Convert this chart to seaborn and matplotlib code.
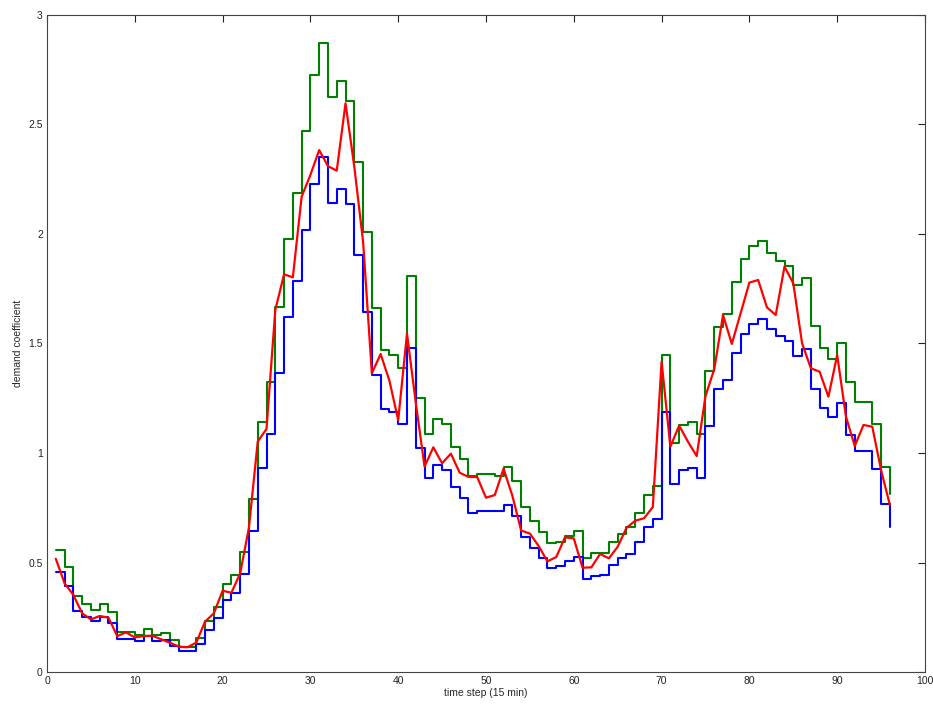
import numpy as np
import pandas as pd
import seaborn as sns
import matplotlib
matplotlib.use("Agg")
import matplotlib.pyplot as plt

# time steps 1..96 (15 min each)
steps = list(range(1, 97))

# upper demand curve (green stairs)
green = [0.556, 0.480, 0.347, 0.310, 0.285, 0.310, 0.275, 0.181, 0.181, 0.170,
         0.196, 0.170, 0.180, 0.145, 0.116, 0.116, 0.154, 0.234, 0.296, 0.402,
         0.443, 0.546, 0.790, 1.142, 1.326, 1.668, 1.977, 2.189, 2.472, 2.726,
         2.874, 2.624, 2.699, 2.609, 2.330, 2.008, 1.662, 1.470, 1.449, 1.389,
         1.810, 1.252, 1.087, 1.157, 1.131, 1.029, 0.974, 0.895, 0.902, 0.902,
         0.895, 0.934, 0.872, 0.755, 0.691, 0.641, 0.588, 0.595, 0.621, 0.644,
         0.519, 0.542, 0.542, 0.595, 0.630, 0.664, 0.728, 0.808, 0.849, 1.447,
         1.047, 1.128, 1.143, 1.086, 1.376, 1.577, 1.635, 1.782, 1.884, 1.947,
         1.970, 1.915, 1.877, 1.854, 1.767, 1.800, 1.581, 1.478, 1.428, 1.501,
         1.323, 1.234, 1.231, 1.131, 0.937, 0.815]

# lower demand curve (blue stairs)
blue = [0.455, 0.393, 0.280, 0.253, 0.234, 0.253, 0.222, 0.150, 0.152, 0.143,
        0.166, 0.143, 0.145, 0.118, 0.095, 0.095, 0.128, 0.192, 0.246, 0.329,
        0.362, 0.447, 0.645, 0.932, 1.086, 1.367, 1.619, 1.787, 2.018, 2.228,
        2.350, 2.143, 2.204, 2.137, 1.904, 1.643, 1.356, 1.199, 1.186, 1.134,
        1.481, 1.024, 0.886, 0.947, 0.924, 0.843, 0.796, 0.725, 0.733, 0.737,
        0.734, 0.763, 0.714, 0.618, 0.565, 0.522, 0.476, 0.484, 0.507, 0.527,
        0.423, 0.438, 0.443, 0.489, 0.519, 0.539, 0.595, 0.664, 0.697, 1.189,
        0.858, 0.922, 0.933, 0.888, 1.125, 1.291, 1.333, 1.455, 1.542, 1.589,
        1.610, 1.566, 1.534, 1.513, 1.444, 1.473, 1.291, 1.204, 1.166, 1.227,
        1.082, 1.009, 1.009, 0.925, 0.767, 0.664]

# measured demand (red line)
red = [0.517, 0.405, 0.352, 0.268, 0.240, 0.256, 0.248, 0.164, 0.181, 0.158,
       0.164, 0.166, 0.149, 0.134, 0.116, 0.113, 0.134, 0.230, 0.268, 0.371,
       0.362, 0.450, 0.660, 1.052, 1.110, 1.653, 1.816, 1.802, 2.170, 2.270,
       2.383, 2.310, 2.289, 2.597, 2.307, 1.965, 1.364, 1.452, 1.330, 1.150,
       1.545, 1.230, 0.938, 1.026, 0.953, 0.997, 0.910, 0.891, 0.890, 0.796,
       0.808, 0.928, 0.805, 0.646, 0.632, 0.575, 0.505, 0.525, 0.615, 0.610,
       0.476, 0.478, 0.539, 0.519, 0.572, 0.658, 0.691, 0.702, 0.753, 1.417,
       1.029, 1.125, 1.052, 0.986, 1.260, 1.383, 1.630, 1.498, 1.638, 1.778,
       1.790, 1.665, 1.630, 1.851, 1.775, 1.501, 1.387, 1.371, 1.257, 1.447,
       1.166, 1.032, 1.128, 1.120, 0.922, 0.763]

x_ticks = [0, 10, 20, 30, 40, 50, 60, 70, 80, 90, 100]
y_ticks = [0, 0.5, 1, 1.5, 2, 2.5, 3]
y_labels = ["0", "0.5", "1", "1.5", "2", "2.5", "3"]

df = pd.DataFrame({"step": steps, "green": green, "blue": blue, "red": red})

sns.set_style("white")
plt.rcParams['font.family'] = ['Liberation Sans', 'DejaVu Sans']

fig = plt.figure(figsize=(9.33, 7.07), dpi=100)
ax = fig.add_axes([0.0504, 0.0495, 0.9410, 0.9293])

sns.lineplot(data=df, x="step", y="green", ax=ax, color="#008000",
             linewidth=1.5, drawstyle="steps-post")
sns.lineplot(data=df, x="step", y="blue", ax=ax, color="#0000ff",
             linewidth=1.5, drawstyle="steps-post")
sns.lineplot(data=df, x="step", y="red", ax=ax, color="#ff0000",
             linewidth=1.6)

ax.set_xlim(0, 100)
ax.set_ylim(0, 3)
ax.set_xticks(x_ticks)
ax.set_yticks(y_ticks)
ax.set_yticklabels(y_labels)
ax.tick_params(direction="in", length=5, width=0.8, labelsize=7.5,
               top=True, right=True, colors="#222222", pad=3)
for s in ax.spines.values():
    s.set_color("#444444")
    s.set_linewidth(0.8)

ax.set_xlabel("time step (15 min)", fontsize=7.5, labelpad=1)
ax.set_ylabel("demand coefficient", fontsize=7.5, labelpad=4)

fig.savefig("out.png", dpi=100)
